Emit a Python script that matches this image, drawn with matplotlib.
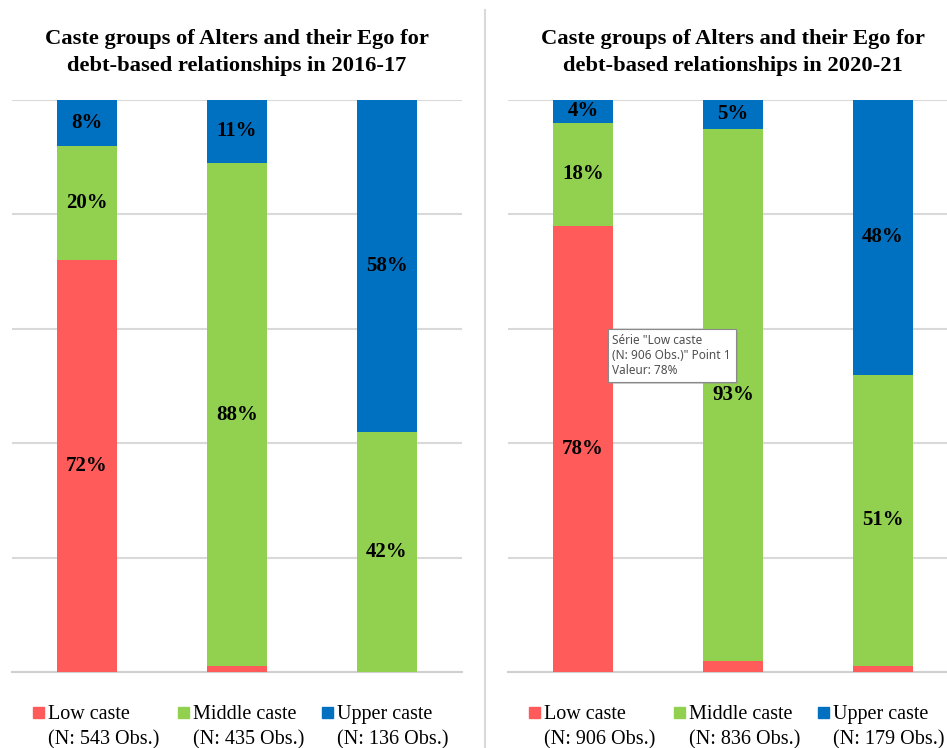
import matplotlib.pyplot as plt
from matplotlib.patches import Rectangle
from matplotlib.lines import Line2D
import matplotlib.patheffects as pe
import numpy as np

# ego caste groups on the x axis, alter caste groups stacked
egos = ['Low caste', 'Middle caste', 'Upper caste']
alter_groups = ['Low caste', 'Middle caste', 'Upper caste']
colors = ['#FF5B5B', '#92D050', '#0070C0']

# 2016-17 (% of alters per ego group)
low_2016 = [72, 1, 0]
middle_2016 = [20, 88, 42]
upper_2016 = [8, 11, 58]
obs_2016 = [543, 435, 136]

# 2020-21
low_2020 = [78, 2, 1]
middle_2020 = [18, 93, 51]
upper_2020 = [4, 5, 48]
obs_2020 = [906, 836, 179]

titles = ['Caste groups of Alters and their Ego for\ndebt-based relationships in 2016-17',
          'Caste groups of Alters and their Ego for\ndebt-based relationships in 2020-21']

plt.rcParams['font.family'] = ['Liberation Serif', 'DejaVu Serif']

fig = plt.figure(figsize=(9.47, 7.48), dpi=100)
ax1 = fig.add_axes([12 / 947, 76 / 748, 450 / 947, 572 / 748])
ax2 = fig.add_axes([508 / 947, 76 / 748, 450 / 947, 572 / 748])


def draw_panel(ax, title, series, obs):
    x = np.arange(len(egos))
    bottom = np.zeros(len(egos))
    for vals, col in zip(series, colors):
        vals = np.array(vals, dtype=float)
        ax.bar(x, vals, 0.4, bottom=bottom, color=col, zorder=3)
        for xi, b, v in zip(x, bottom, vals):
            if v >= 3:
                ax.text(xi, b + v / 2, f'{v:.0f}%', ha='center', va='center',
                        fontsize=15, fontweight='bold', zorder=4)
        bottom += vals

    ax.set_xlim(-0.5, 2.5)
    ax.set_ylim(0, 100)
    ax.set_yticks(np.arange(0, 101, 20))
    ax.yaxis.grid(True, color='#D9D9D9', lw=1.5, zorder=0)
    ax.set_xticks([])
    ax.tick_params(left=False, labelleft=False)
    for s in ['left', 'right', 'top']:
        ax.spines[s].set_visible(False)
    ax.spines['bottom'].set_color('#D0D0D0')
    ax.spines['bottom'].set_linewidth(1.5)

    ax.text(0.5, 1.083, title, transform=ax.transAxes, ha='center', va='center',
            fontsize=16.2, fontweight='bold', linespacing=1.42)

    # legend entries under the plot
    for i, (name, n, col) in enumerate(zip(alter_groups, obs, colors)):
        lx = [0.047, 0.369, 0.689][i]
        ax.add_patch(Rectangle((lx, -0.0805), 11 / 450, 11 / 572, transform=ax.transAxes,
                               color=col, clip_on=False))
        ax.text(lx + 15 / 450, -0.074, name, transform=ax.transAxes, ha='left', va='center',
                fontsize=14.5)
        ax.text(lx + 15 / 450, -0.119, f'(N: {n} Obs.)', transform=ax.transAxes,
                ha='left', va='center', fontsize=14.5)


draw_panel(ax1, titles[0], [low_2016, middle_2016, upper_2016], obs_2016)
draw_panel(ax2, titles[1], [low_2020, middle_2020, upper_2020], obs_2020)

# hover tooltip on the first low caste bar
tip = ax2.text(0.232, 0.591, 'Série "Low caste\n(N: 906 Obs.)" Point 1\nValeur: 78%',
               transform=ax2.transAxes, ha='left', va='top', fontsize=8.5, color='#505050',
               family='Noto Sans', linespacing=1.2, zorder=6,
               bbox=dict(boxstyle='square,pad=0.4', fc='white', ec='#8A8A8A', lw=0.8))
tip.get_bbox_patch().set_path_effects([
    pe.SimplePatchShadow(offset=(2, -2), shadow_rgbFace='#999999', alpha=0.5),
    pe.Normal()])

# divider between the two panels
fig.add_artist(Line2D([485 / 947, 485 / 947], [0, 1 - 10 / 748], color='#D9D9D9', lw=1.5))

fig.savefig('out.png', dpi=100)
